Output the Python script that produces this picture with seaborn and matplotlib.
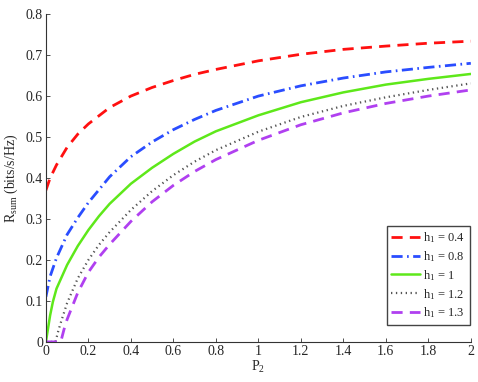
import pandas as pd
import matplotlib
matplotlib.use("Agg")
import matplotlib.pyplot as plt
import seaborn as sns

# --- Data ---
p2_red = [0, 0.02, 0.05, 0.1, 0.15, 0.2, 0.3, 0.4, 0.5, 0.6, 0.7, 0.8, 1.0, 1.2, 1.4, 1.6, 1.8, 2.0]
r_red = [0.370, 0.400, 0.432, 0.475, 0.507, 0.532, 0.572, 0.600, 0.621, 0.638, 0.653, 0.665, 0.686, 0.702, 0.714, 0.722, 0.729, 0.734]

p2_blue = [0, 0.02, 0.05, 0.1, 0.15, 0.2, 0.3, 0.4, 0.5, 0.6, 0.7, 0.8, 1.0, 1.2, 1.4, 1.6, 1.8, 2.0]
r_blue = [0.110, 0.160, 0.205, 0.262, 0.303, 0.340, 0.403, 0.452, 0.488, 0.518, 0.543, 0.565, 0.600, 0.625, 0.644, 0.659, 0.670, 0.680]

p2_green = [0, 0.02, 0.033, 0.05, 0.1, 0.15, 0.2, 0.25, 0.3, 0.4, 0.5, 0.6, 0.7, 0.8, 1.0, 1.2, 1.4, 1.6, 1.8, 2.0]
r_green = [0.0, 0.065, 0.098, 0.130, 0.188, 0.234, 0.273, 0.307, 0.337, 0.386, 0.425, 0.459, 0.489, 0.514, 0.553, 0.585, 0.609, 0.628, 0.642, 0.654]

p2_black = [0, 0.045, 0.06, 0.075, 0.1, 0.15, 0.2, 0.25, 0.3, 0.4, 0.5, 0.6, 0.7, 0.8, 1.0, 1.2, 1.4, 1.6, 1.8, 2.0]
r_black = [0.0, 0.0, 0.030, 0.055, 0.095, 0.155, 0.200, 0.237, 0.268, 0.322, 0.368, 0.407, 0.440, 0.468, 0.513, 0.549, 0.576, 0.597, 0.615, 0.631]

p2_mag = [0, 0.07, 0.085, 0.1, 0.15, 0.2, 0.25, 0.3, 0.4, 0.5, 0.6, 0.7, 0.8, 1.0, 1.2, 1.4, 1.6, 1.8, 2.0]
r_mag = [0.0, 0.0, 0.030, 0.055, 0.120, 0.170, 0.207, 0.238, 0.294, 0.342, 0.382, 0.416, 0.445, 0.492, 0.530, 0.559, 0.582, 0.600, 0.615]

labels = ["h$_1$ = 0.4", "h$_1$ = 0.8", "h$_1$ = 1", "h$_1$ = 1.2", "h$_1$ = 1.3"]
x_ticks = [0, 0.2, 0.4, 0.6, 0.8, 1, 1.2, 1.4, 1.6, 1.8, 2]
y_ticks = [0, 0.1, 0.2, 0.3, 0.4, 0.5, 0.6, 0.7, 0.8]

# --- Style ---
sns.set_theme(style="ticks")
plt.rcParams["font.family"] = ["Liberation Serif", "DejaVu Serif"]
plt.rcParams["mathtext.fontset"] = "custom"
plt.rcParams["mathtext.rm"] = "Liberation Serif"
plt.rcParams["mathtext.it"] = "Liberation Serif"
plt.rcParams["xtick.direction"] = "in"
plt.rcParams["ytick.direction"] = "in"

series = [
    (p2_red, r_red, "#ff1010", (4, 2.6), 2.0),
    (p2_blue, r_blue, "#2a4dff", (4, 1.6, 0.6, 1.6), 2.0),
    (p2_green, r_green, "#5ee81a", (), 1.8),
    (p2_black, r_black, "#555555", (0.6, 1.6), 1.6),
    (p2_mag, r_mag, "#b040f0", (4, 2.6), 2.0),
]

fig = plt.figure(figsize=(4.78, 3.82), dpi=100)
ax = fig.add_axes([0.096, 0.105, 0.889, 0.858])

for (xs, ys, col, dash, lw), lab in zip(series, labels):
    df = pd.DataFrame({"P2": xs, "R": ys})
    sns.lineplot(data=df, x="P2", y="R", ax=ax, color=col, linewidth=lw,
                 label=lab, estimator=None, sort=False)
    if dash:
        ax.lines[-1].set_dashes(dash)

ax.set_xlim(0, 2)
ax.set_ylim(0, 0.8)
ax.set_xticks(x_ticks)
ax.set_xticklabels([f"{t:g}" for t in x_ticks])
ax.set_yticks(y_ticks)
ax.set_yticklabels([f"{t:g}" for t in y_ticks])
ax.tick_params(labelsize=10, length=3, width=0.6, color="#333333", pad=2)
for s in ["top", "right"]:
    ax.spines[s].set_visible(False)
for s in ["left", "bottom"]:
    ax.spines[s].set_linewidth(0.8)
    ax.spines[s].set_color("#333333")

ax.set_xlabel("P$_2$", fontsize=10, labelpad=1)
ax.set_ylabel("R$_{\\mathrm{sum}}$ (bits/s/Hz)", fontsize=10, labelpad=4)

leg = ax.legend(loc="lower right", bbox_to_anchor=(0.997, 0.052), borderaxespad=0,
                fontsize=9, frameon=True, fancybox=False,
                handlelength=2.3, handletextpad=0.3, labelspacing=0.33, borderpad=0.35)
leg.get_frame().set_edgecolor("#444444")
leg.get_frame().set_linewidth(1.0)
leg.get_frame().set_alpha(1)

fig.savefig("out.png", dpi=100)
